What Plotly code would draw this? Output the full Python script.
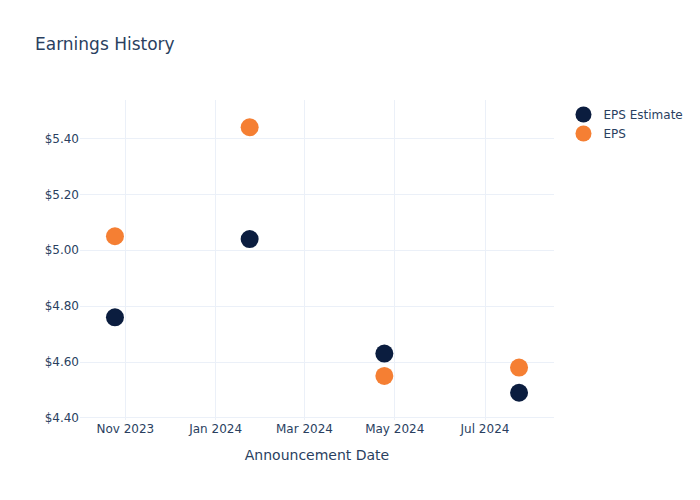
import plotly.graph_objects as go

dates = ["2023-10-25", "2024-01-24", "2024-04-24", "2024-07-24"]
eps_estimate = [4.76, 5.04, 4.63, 4.49]
eps_actual = [5.05, 5.44, 4.55, 4.58]

fig = go.Figure()
fig.add_trace(go.Scatter(x=dates, y=eps_estimate, mode="markers", name="EPS Estimate",
                         marker=dict(color="#0b1d3f", size=18)))
fig.add_trace(go.Scatter(x=dates, y=eps_actual, mode="markers", name="EPS",
                         marker=dict(color="#f57f33", size=18)))
fig.update_layout(
    template="plotly_white",
    width=700, height=500,
    font=dict(family="DejaVu Sans"),
    title=dict(text="Earnings History"),
    xaxis=dict(title="Announcement Date", tickformat="%b %Y", dtick="M2"),
    yaxis=dict(tickprefix="$", tickformat=".2f"),
)
fig.write_html("out.html", config={"displayModeBar": False},
               post_script="document.body.style.margin='0';")
